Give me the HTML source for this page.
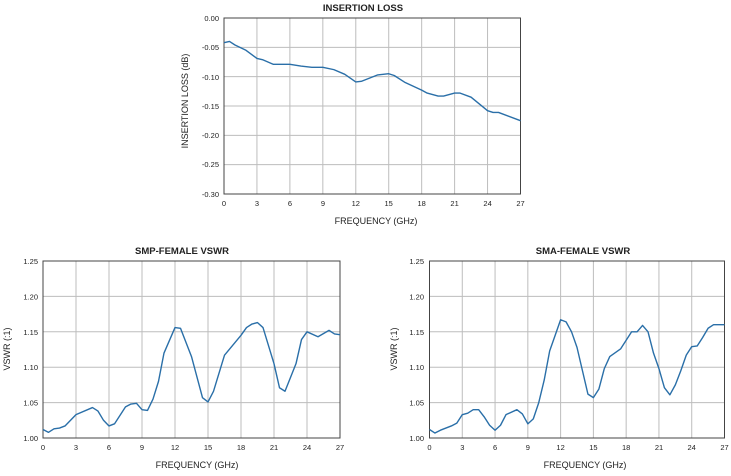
<!DOCTYPE html>
<html><head><meta charset="utf-8"><style>
html,body{margin:0;padding:0;background:#fff;}
text{font-family:"Liberation Sans",Arial,sans-serif;fill:#222;}
.t{font-size:7.5px;}
.ti{font-size:9.5px;font-weight:bold;}
.ax{font-size:9px;}
.g{stroke:#bdbdbd;stroke-width:1;vector-effect:non-scaling-stroke;fill:none}
.b{stroke:#444;stroke-width:1;vector-effect:non-scaling-stroke;fill:none}
.d{stroke:#2a6fa8;stroke-width:1.4;vector-effect:non-scaling-stroke;fill:none;stroke-linejoin:round}
</style></head><body>
<svg width="731" height="471" xmlns="http://www.w3.org/2000/svg">
<rect width="731" height="471" fill="#fff"/>
<!-- TOP -->
<text class="ti" x="363" y="11" text-anchor="middle">INSERTION LOSS</text>
<svg x="224" y="18" width="296.5" height="176" viewBox="0 0 27 30" preserveAspectRatio="none" overflow="visible">
<path class="g" d="M3 0V30M6 0V30M9 0V30M12 0V30M15 0V30M18 0V30M21 0V30M24 0V30M0 5H27M0 10H27M0 15H27M0 20H27M0 25H27"/>
<rect class="b" x="0" y="0" width="27" height="30"/>
<polyline class="d" points="0,4.2 0.5,4.0 1,4.6 2,5.5 3,6.9 3.5,7.1 4.5,7.9 6,7.9 7,8.2 8,8.4 9,8.4 10,8.8 11,9.6 12,10.9 12.5,10.8 14,9.7 15,9.5 15.5,9.8 16.5,11.0 18,12.3 18.5,12.8 19.5,13.3 20,13.3 21,12.8 21.5,12.8 22.5,13.5 24,15.8 24.5,16.1 25,16.1 27,17.5"/>
</svg>
<g class="t" text-anchor="end">
<text x="219" y="21">0.00</text><text x="219" y="50">-0.05</text><text x="219" y="80">-0.10</text><text x="219" y="109">-0.15</text><text x="219" y="138">-0.20</text><text x="219" y="167">-0.25</text><text x="219" y="197">-0.30</text>
</g>
<g class="t" text-anchor="middle">
<text x="224" y="206">0</text><text x="257" y="206">3</text><text x="290" y="206">6</text><text x="323" y="206">9</text><text x="355.8" y="206">12</text><text x="388.7" y="206">15</text><text x="421.7" y="206">18</text><text x="454.6" y="206">21</text><text x="487.6" y="206">24</text><text x="520.5" y="206">27</text>
</g>
<text class="ax" x="376" y="224" text-anchor="middle">FREQUENCY (GHz)</text>
<text class="ax" transform="translate(188,101) rotate(-90)" text-anchor="middle">INSERTION LOSS (dB)</text>

<!-- LEFT -->
<text class="ti" x="182" y="254" text-anchor="middle">SMP-FEMALE VSWR</text>
<svg x="43" y="261" width="297" height="177" viewBox="0 0 27 25" preserveAspectRatio="none" overflow="visible">
<path class="g" d="M3 0V25M6 0V25M9 0V25M12 0V25M15 0V25M18 0V25M21 0V25M24 0V25M0 5H27M0 10H27M0 15H27M0 20H27"/>
<rect class="b" x="0" y="0" width="27" height="25"/>
<polyline class="d" points="0,23.8 0.5,24.2 1,23.7 1.5,23.6 2,23.3 3,21.7 4.5,20.7 5,21.2 5.5,22.5 6,23.3 6.5,23 7.5,20.6 8,20.2 8.5,20.1 9,21 9.5,21.1 10,19.5 10.5,17 11,13 12,9.4 12.5,9.5 13.5,13.5 14.5,19.3 15,19.9 15.5,18.4 16.5,13.3 18,10.5 18.5,9.4 19,8.9 19.5,8.7 20,9.4 21,14.5 21.5,17.9 22,18.4 23,14.5 23.5,11.1 24,10 25,10.7 26,9.8 26.5,10.3 27,10.4"/>
</svg>
<g class="t" text-anchor="end">
<text x="38" y="264">1.25</text><text x="38" y="299.4">1.20</text><text x="38" y="334.8">1.15</text><text x="38" y="370.2">1.10</text><text x="38" y="405.6">1.05</text><text x="38" y="441">1.00</text>
</g>
<g class="t" text-anchor="middle">
<text x="43" y="450">0</text><text x="76" y="450">3</text><text x="109" y="450">6</text><text x="142" y="450">9</text><text x="175" y="450">12</text><text x="208" y="450">15</text><text x="241" y="450">18</text><text x="274" y="450">21</text><text x="307" y="450">24</text><text x="340" y="450">27</text>
</g>
<text class="ax" x="197" y="468" text-anchor="middle">FREQUENCY (GHz)</text>
<text class="ax" transform="translate(10,349) rotate(-90)" text-anchor="middle">VSWR (:1)</text>

<!-- RIGHT -->
<text class="ti" x="583" y="254" text-anchor="middle">SMA-FEMALE VSWR</text>
<svg x="429.5" y="261" width="295" height="177" viewBox="0 0 27 25" preserveAspectRatio="none" overflow="visible">
<path class="g" d="M3 0V25M6 0V25M9 0V25M12 0V25M15 0V25M18 0V25M21 0V25M24 0V25M0 5H27M0 10H27M0 15H27M0 20H27"/>
<rect class="b" x="0" y="0" width="27" height="25"/>
<polyline class="d" points="0,23.8 0.5,24.3 1,23.9 2,23.3 2.5,22.9 3,21.7 3.5,21.5 4,21 4.5,21 5,22 5.5,23.2 6,23.9 6.5,23.2 7,21.7 8,21 8.5,21.6 9,23 9.5,22.3 10,20 10.5,16.8 11,12.7 11.5,10.5 12,8.3 12.5,8.6 13,10 13.5,12.2 14,15.5 14.5,18.8 15,19.3 15.5,18.1 16,15.2 16.5,13.5 17.5,12.4 18,11.2 18.5,10 19,10 19.5,9.1 20,10 20.5,13 21,15.2 21.5,17.9 22,18.9 22.5,17.5 23,15.5 23.5,13.3 24,12.1 24.5,12 25,10.8 25.5,9.5 26,9 27,9"/>
</svg>
<g class="t" text-anchor="end">
<text x="424" y="264">1.25</text><text x="424" y="299.4">1.20</text><text x="424" y="334.8">1.15</text><text x="424" y="370.2">1.10</text><text x="424" y="405.6">1.05</text><text x="424" y="441">1.00</text>
</g>
<g class="t" text-anchor="middle">
<text x="429.5" y="450">0</text><text x="462.3" y="450">3</text><text x="495.1" y="450">6</text><text x="527.8" y="450">9</text><text x="560.6" y="450">12</text><text x="593.4" y="450">15</text><text x="626.2" y="450">18</text><text x="659" y="450">21</text><text x="691.7" y="450">24</text><text x="724.5" y="450">27</text>
</g>
<text class="ax" x="585" y="468" text-anchor="middle">FREQUENCY (GHz)</text>
<text class="ax" transform="translate(397,349) rotate(-90)" text-anchor="middle">VSWR (:1)</text>
</svg>
</body></html>
